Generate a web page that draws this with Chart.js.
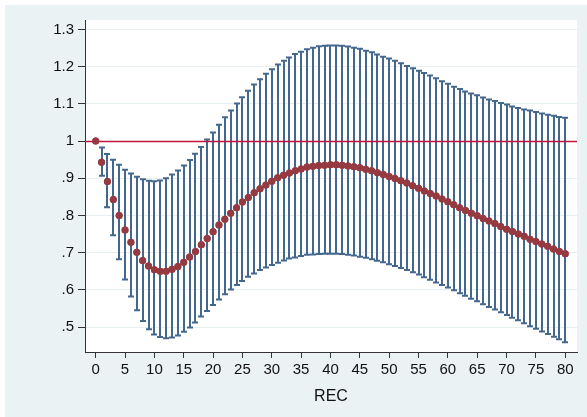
<!DOCTYPE html>
<html>
<head>
<meta charset="utf-8">
<script src="https://cdn.jsdelivr.net/npm/chart.js@4"></script>
<style>
  html, body { margin: 0; padding: 0; background: #ffffff; }
  .wrap { position: relative; width: 587px; height: 417px; overflow: hidden; }
  .bg { position: absolute; left: 5px; top: 5px; right: 0; bottom: 0; background: #eaf2f3; }
  canvas { position: absolute; left: 0; top: 0; }
</style>
</head>
<body>
<div class="wrap">
  <div class="bg"></div>
  <canvas id="irf" width="587" height="417"></canvas>
</div>
<script>
// horizons (steps after the shock)
const steps = [
  0, 1, 2, 3, 4, 5, 6, 7, 8, 9,
  10, 11, 12, 13, 14, 15, 16, 17, 18, 19,
  20, 21, 22, 23, 24, 25, 26, 27, 28, 29,
  30, 31, 32, 33, 34, 35, 36, 37, 38, 39,
  40, 41, 42, 43, 44, 45, 46, 47, 48, 49,
  50, 51, 52, 53, 54, 55, 56, 57, 58, 59,
  60, 61, 62, 63, 64, 65, 66, 67, 68, 69,
  70, 71, 72, 73, 74, 75, 76, 77, 78, 79,
  80
];

// point estimate
const estimate = [
  1.000, 0.943, 0.891, 0.843, 0.800, 0.761, 0.728, 0.701, 0.679, 0.664,
  0.654, 0.650, 0.650, 0.655, 0.663, 0.674, 0.688, 0.703, 0.721, 0.738,
  0.756, 0.774, 0.790, 0.806, 0.821, 0.836, 0.848, 0.861, 0.872, 0.882,
  0.892, 0.901, 0.908, 0.914, 0.920, 0.925, 0.930, 0.932, 0.934, 0.935,
  0.936, 0.936, 0.935, 0.933, 0.931, 0.928, 0.924, 0.920, 0.915, 0.910,
  0.905, 0.899, 0.893, 0.887, 0.880, 0.873, 0.866, 0.859, 0.852, 0.844,
  0.837, 0.829, 0.821, 0.813, 0.806, 0.799, 0.792, 0.785, 0.778, 0.770,
  0.763, 0.757, 0.750, 0.744, 0.736, 0.730, 0.723, 0.717, 0.710, 0.703,
  0.697
];

// confidence band, upper and lower caps
const upper = [
  null, 0.983, 0.965, 0.950, 0.936, 0.923, 0.913, 0.904, 0.897, 0.893,
  0.892, 0.894, 0.900, 0.910, 0.921, 0.934, 0.949, 0.966, 0.984, 1.004,
  1.023, 1.044, 1.064, 1.082, 1.101, 1.118, 1.135, 1.152, 1.166, 1.181,
  1.193, 1.206, 1.216, 1.225, 1.234, 1.240, 1.247, 1.251, 1.255, 1.256,
  1.257, 1.257, 1.256, 1.254, 1.251, 1.248, 1.243, 1.239, 1.233, 1.227,
  1.222, 1.216, 1.209, 1.202, 1.196, 1.189, 1.183, 1.176, 1.169, 1.161,
  1.154, 1.146, 1.140, 1.133, 1.128, 1.123, 1.117, 1.112, 1.108, 1.102,
  1.098, 1.093, 1.089, 1.085, 1.082, 1.078, 1.074, 1.071, 1.068, 1.065,
  1.063
];

const lower = [
  null, 0.907, 0.822, 0.747, 0.682, 0.628, 0.582, 0.545, 0.516, 0.494,
  0.480, 0.473, 0.470, 0.472, 0.477, 0.487, 0.499, 0.512, 0.528, 0.543,
  0.559, 0.574, 0.588, 0.601, 0.613, 0.624, 0.635, 0.644, 0.653, 0.660,
  0.667, 0.673, 0.679, 0.684, 0.687, 0.691, 0.694, 0.695, 0.696, 0.697,
  0.697, 0.697, 0.696, 0.694, 0.692, 0.689, 0.686, 0.682, 0.678, 0.674,
  0.669, 0.664, 0.659, 0.653, 0.647, 0.641, 0.634, 0.627, 0.620, 0.613,
  0.606, 0.599, 0.591, 0.584, 0.576, 0.569, 0.561, 0.554, 0.547, 0.540,
  0.532, 0.525, 0.518, 0.510, 0.502, 0.495, 0.488, 0.481, 0.474, 0.467,
  0.459
];

const xTicks = [0, 5, 10, 15, 20, 25, 30, 35, 40, 45, 50, 55, 60, 65, 70, 75, 80];
const yTicks = [0.5, 0.6, 0.7, 0.8, 0.9, 1, 1.1, 1.2, 1.3];
const yTickLabels = [".5", ".6", ".7", ".8", ".9", "1", "1.1", "1.2", "1.3"];
const xTitle = "REC";
const refLine = 1;

const FONT = "'Liberation Sans', Arial, sans-serif";
const TEXT = "#111111";
const AXIS = "#333333";

// white plot region on the grey-blue graph background
const plotBackground = {
  id: "plotBackground",
  beforeDraw(chart) {
    const { ctx, chartArea: a } = chart;
    ctx.save();
    ctx.fillStyle = "#ffffff";
    ctx.fillRect(a.left, a.top, a.right - a.left, a.bottom - a.top);
    ctx.restore();
  }
};

// capped spikes for the band, then the line at 1
const errorBars = {
  id: "errorBars",
  beforeDatasetsDraw(chart) {
    const { ctx, chartArea: a } = chart;
    const x = chart.scales.x;
    const y = chart.scales.y;
    ctx.save();
    ctx.strokeStyle = "#44678d";
    ctx.lineWidth = 2;
    steps.forEach((s, i) => {
      if (upper[i] == null || lower[i] == null) return;
      const px = Math.round(x.getPixelForValue(s));
      const top = y.getPixelForValue(upper[i]);
      const bot = y.getPixelForValue(lower[i]);
      ctx.beginPath();
      ctx.moveTo(px, top);
      ctx.lineTo(px, bot);
      ctx.moveTo(px - 3, top);
      ctx.lineTo(px + 3, top);
      ctx.moveTo(px - 3, bot);
      ctx.lineTo(px + 3, bot);
      ctx.stroke();
    });
    ctx.restore();
  },
  afterDatasetsDraw(chart) {
    // the line at 1 sits over the spikes, the dots are redrawn above it
    const { ctx, chartArea: a } = chart;
    const y = chart.scales.y;
    const ly = Math.round(y.getPixelForValue(refLine)) + 0.5;
    ctx.save();
    ctx.strokeStyle = "#c0143c";
    ctx.lineWidth = 1.3;
    ctx.beginPath();
    ctx.moveTo(a.left, ly);
    ctx.lineTo(a.right, ly);
    ctx.stroke();
    ctx.restore();
    chart.getDatasetMeta(0).controller.draw();
  }
};

const config = {
  type: "scatter",
  data: {
    datasets: [
      {
        label: "irf",
        data: steps.map((s, i) => ({ x: s, y: estimate[i] })),
        backgroundColor: "#953a40",
        borderColor: "#953a40",
        borderWidth: 0,
        pointRadius: 3.5,
        pointHoverRadius: 3.5,
        showLine: false
      }
    ]
  },
  options: {
    responsive: false,
    animation: false,
    devicePixelRatio: 1,
    layout: { padding: { left: 0, top: 20, right: 10, bottom: 0 } },
    plugins: {
      legend: { display: false },
      tooltip: { enabled: false }
    },
    scales: {
      x: {
        type: "linear",
        min: -1.82,
        max: 82.0,
        afterBuildTicks: (scale) => {
          scale.ticks = xTicks.map((v) => ({ value: v }));
        },
        afterFit: (scale) => {
          scale.height = 65;
        },
        grid: {
          drawOnChartArea: false,
          tickLength: 6,
          tickColor: AXIS,
          tickWidth: 1
        },
        border: { color: AXIS, width: 1 },
        ticks: {
          color: TEXT,
          font: { family: FONT, size: 15 },
          padding: 3,
          maxRotation: 0,
          autoSkip: false
        },
        title: {
          display: true,
          text: xTitle,
          color: TEXT,
          font: { family: FONT, size: 16 },
          padding: { top: 5, bottom: 11 }
        }
      },
      y: {
        type: "linear",
        min: 0.4328,
        max: 1.3255,
        afterBuildTicks: (scale) => {
          scale.ticks = yTicks.map((v) => ({ value: v }));
        },
        afterFit: (scale) => {
          scale.width = 85;
        },
        grid: {
          color: "#e6eeef",
          lineWidth: 1,
          tickLength: 7,
          tickColor: AXIS,
          tickWidth: 1
        },
        border: { color: AXIS, width: 1 },
        ticks: {
          color: TEXT,
          font: { family: FONT, size: 15 },
          padding: 4,
          callback: (v) => yTickLabels[yTicks.indexOf(v)]
        }
      }
    }
  },
  plugins: [plotBackground, errorBars]
};

const irfChart = new Chart(document.getElementById("irf"), config);
</script>
</body>
</html>
